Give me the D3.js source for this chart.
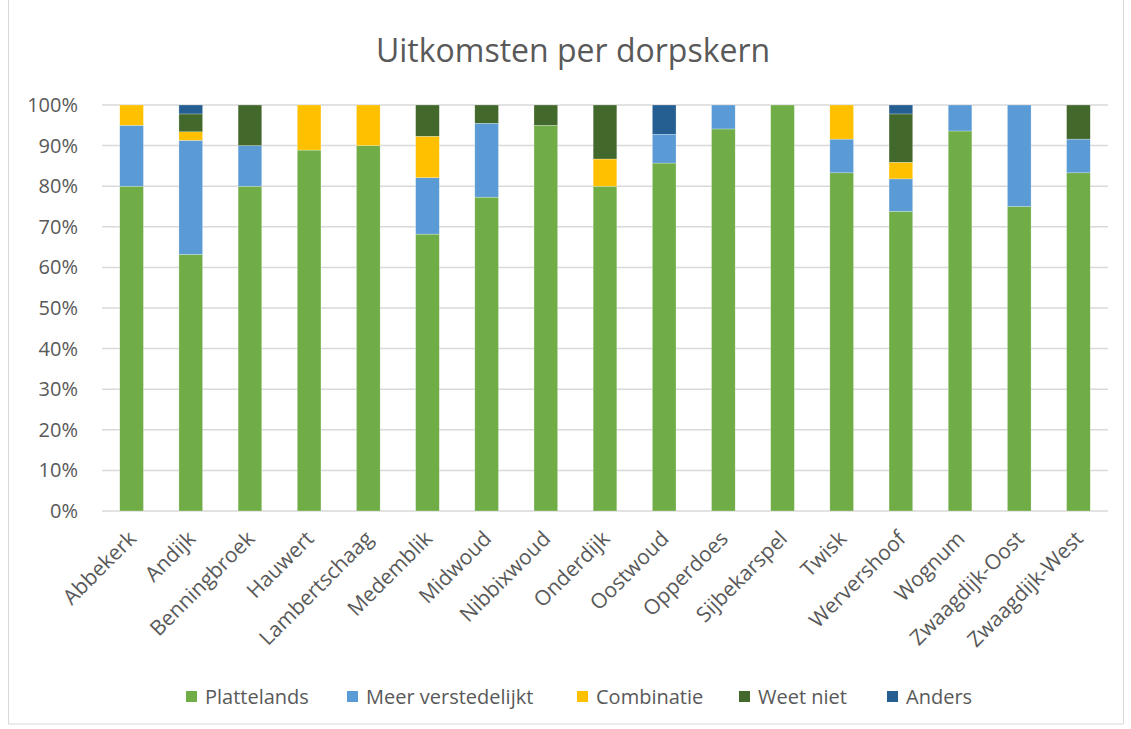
<!DOCTYPE html>
<html>
<head>
<meta charset="utf-8">
<script src="https://cdn.jsdelivr.net/npm/d3@7"></script>
<style>
  body { margin: 0; background: #fff; }
  text { font-family: "Open Sans", sans-serif; fill: #595959; }
</style>
</head>
<body>
<div id="chart"></div>
<script>
// data
var villages = ["Abbekerk", "Andijk", "Benningbroek", "Hauwert", "Lambertschaag",
  "Medemblik", "Midwoud", "Nibbixwoud", "Onderdijk", "Oostwoud", "Opperdoes",
  "Sijbekarspel", "Twisk", "Wervershoof", "Wognum", "Zwaagdijk-Oost", "Zwaagdijk-West"];
var seriesNames = ["Plattelands", "Meer verstedelijkt", "Combinatie", "Weet niet", "Anders"];
var plattelands = [80, 63.2, 80, 88.9, 90, 68.2, 77.3, 95, 80, 85.7, 94.1, 100, 83.3, 73.8, 93.6, 75, 83.3];
var meerVerstedelijkt = [15, 28.1, 10, 0, 0, 13.9, 18.2, 0, 0, 7.1, 5.9, 0, 8.3, 8.0, 6.4, 25, 8.3];
var combinatie = [5, 2.1, 0, 11.1, 10, 10.2, 0, 0, 6.7, 0, 0, 0, 8.4, 4.1, 0, 0, 0];
var weetNiet = [0, 4.4, 10, 0, 0, 7.7, 4.5, 5, 13.3, 0, 0, 0, 0, 11.9, 0, 0, 8.4];
var anders = [0, 2.2, 0, 0, 0, 0, 0, 0, 0, 7.2, 0, 0, 0, 2.2, 0, 0, 0];
var yTicks = [0, 10, 20, 30, 40, 50, 60, 70, 80, 90, 100];

var colors = ["#70AD47", "#5B9BD5", "#FFC000", "#43682B", "#255E91"];

var svgWidth = 1131;
var svgHeight = 729;
var margin = { top: 105, right: 23, bottom: 218, left: 102 };
var plotWidth = svgWidth - margin.left - margin.right;
var plotHeight = svgHeight - margin.top - margin.bottom;

var svg = d3.select("#chart")
  .append("svg")
  .attr("width", svgWidth)
  .attr("height", svgHeight);

// outer frame
svg.append("rect")
  .attr("x", 8.5)
  .attr("y", -1)
  .attr("width", 1115)
  .attr("height", 725)
  .attr("fill", "none")
  .attr("stroke", "#d9d9d9");

// title
svg.append("text")
  .attr("x", 573)
  .attr("y", 62)
  .attr("text-anchor", "middle")
  .style("font-size", "32px")
  .text("Uitkomsten per dorpskern");

var chartGroup = svg.append("g")
  .attr("transform", `translate(${margin.left}, ${margin.top})`);

// build table for stacking
var table = villages.map(function(v, i) {
  return {
    village: v,
    "Plattelands": plattelands[i],
    "Meer verstedelijkt": meerVerstedelijkt[i],
    "Combinatie": combinatie[i],
    "Weet niet": weetNiet[i],
    "Anders": anders[i]
  };
});
var stacked = d3.stack().keys(seriesNames)(table);

var xScale = d3.scaleBand()
  .domain(villages)
  .range([0, plotWidth])
  .paddingInner(0.6)
  .paddingOuter(0.3);

var yScale = d3.scaleLinear()
  .domain([0, 100])
  .range([plotHeight, 0]);

// gridlines
chartGroup.append("g")
  .selectAll("line")
  .data(yTicks)
  .enter()
  .append("line")
  .attr("x1", 0)
  .attr("x2", plotWidth)
  .attr("y1", d => yScale(d))
  .attr("y2", d => yScale(d))
  .attr("stroke", "#d9d9d9")
  .attr("stroke-width", 1.5);

// y axis
var leftAxis = d3.axisLeft(yScale)
  .tickValues(yTicks)
  .tickFormat(d => d + "%")
  .tickSize(0)
  .tickPadding(24);
var yAxis = chartGroup.append("g").call(leftAxis);
yAxis.select(".domain").remove();
yAxis.selectAll("text")
  .style("font-size", "20px")
  .style("fill", "#595959")
  .style("font-family", "'Open Sans', sans-serif");

// bars
chartGroup.selectAll(".series")
  .data(stacked)
  .enter()
  .append("g")
  .attr("class", "series")
  .attr("fill", (d, i) => colors[i])
  .selectAll("rect")
  .data(d => d)
  .enter()
  .append("rect")
  .attr("x", d => xScale(d.data.village))
  .attr("y", d => yScale(d[1]))
  .attr("width", xScale.bandwidth())
  .attr("height", d => yScale(d[0]) - yScale(d[1]))
  .attr("stroke", "#ffffff")
  .attr("stroke-opacity", 0.5)
  .attr("stroke-width", 0.5);

// x axis labels
var bottomAxis = d3.axisBottom(xScale).tickSize(0).tickPadding(0);
var xAxis = chartGroup.append("g")
  .attr("transform", `translate(0, ${plotHeight})`)
  .call(bottomAxis);
xAxis.select(".domain").remove();
xAxis.selectAll("text")
  .attr("text-anchor", "end")
  .attr("dy", 0)
  .attr("y", 0)
  .attr("transform", "translate(6, 29) rotate(-45)")
  .style("font-size", "21px")
  .style("fill", "#595959")
  .style("font-family", "'Open Sans', sans-serif");

// legend
var legendX = [186, 347, 577, 739, 887];
var legend = svg.append("g")
  .selectAll("g")
  .data(seriesNames)
  .enter()
  .append("g")
  .attr("transform", (d, i) => `translate(${legendX[i]}, 697)`);
legend.append("rect")
  .attr("x", 0)
  .attr("y", -6)
  .attr("width", 11)
  .attr("height", 11)
  .attr("fill", (d, i) => colors[i]);
legend.append("text")
  .attr("x", 19)
  .attr("y", 7)
  .style("font-size", "20px")
  .text(d => d);
</script>
</body>
</html>
